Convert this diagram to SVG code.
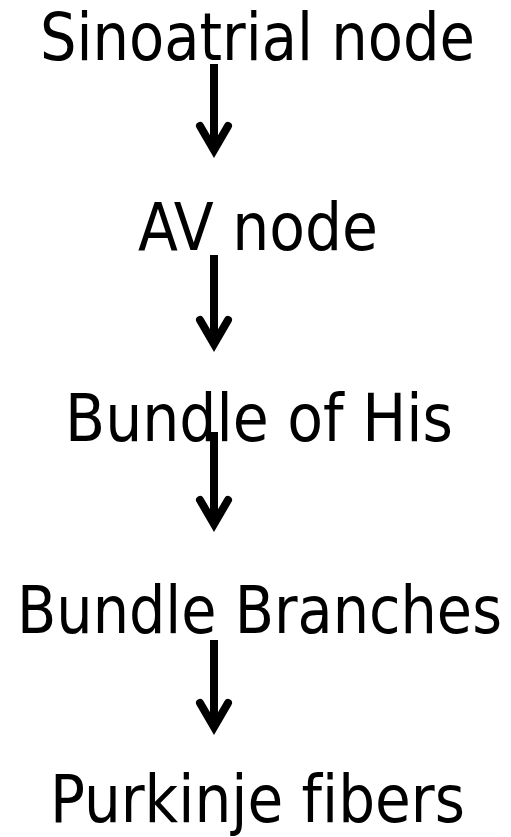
<svg xmlns="http://www.w3.org/2000/svg" width="511" height="837" viewBox="0 0 511 837">
  <style>
    .label { font-family: "DejaVu Sans", Verdana, sans-serif; font-stretch: condensed; font-size: 65px; fill: #000; text-anchor: middle; font-variant-ligatures: none; font-feature-settings: "liga" 0; }
    .shaft { stroke: #000; stroke-width: 8; fill: none; }
    .head { stroke: #000; stroke-width: 8; fill: none; stroke-linecap: round; stroke-linejoin: miter; stroke-miterlimit: 10; }
  </style>
  <rect width="511" height="837" fill="#fff"/>

  <g id="connectors">
    <g id="arrow-sa-av">
      <line class="shaft" x1="214" y1="64" x2="214" y2="150"/>
      <polyline class="head" points="200,126 214,150 228,126"/>
    </g>
    <g id="arrow-av-his">
      <line class="shaft" x1="214" y1="255" x2="214" y2="344"/>
      <polyline class="head" points="200,320 214,344 228,320"/>
    </g>
    <g id="arrow-his-branches">
      <line class="shaft" x1="214" y1="432" x2="214" y2="524"/>
      <polyline class="head" points="200,500 214,524 228,500"/>
    </g>
    <g id="arrow-branches-purkinje">
      <line class="shaft" x1="214" y1="640" x2="214" y2="727"/>
      <polyline class="head" points="200,703 214,727 228,703"/>
    </g>
  </g>

  <g id="sinoatrial-node"><text class="label" x="257.5" y="60" textLength="435" lengthAdjust="spacingAndGlyphs">Sinoatrial node</text></g>
  <g id="av-node"><text class="label" x="258" y="250" textLength="240" lengthAdjust="spacingAndGlyphs">AV node</text></g>
  <g id="bundle-of-his"><text class="label" x="259" y="441" textLength="388" lengthAdjust="spacingAndGlyphs">Bundle of His</text></g>
  <g id="bundle-branches"><text class="label" x="259.5" y="633" textLength="485" lengthAdjust="spacingAndGlyphs">Bundle Branches</text></g>
  <g id="purkinje-fibers"><text class="label" x="257.5" y="822" textLength="415" lengthAdjust="spacingAndGlyphs">Purkinje fibers</text></g>
</svg>
